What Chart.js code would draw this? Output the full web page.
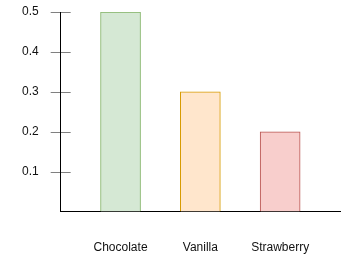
<!DOCTYPE html>
<html>
<head>
<meta charset="utf-8">
<script src="https://cdn.jsdelivr.net/npm/chart.js@4"></script>
<style>
  html, body { margin: 0; padding: 0; background: #fff; }
  #wrap { width: 342px; height: 272px; }
</style>
</head>
<body>
<div id="wrap"><canvas id="flavourChart"></canvas></div>
<script>
const categories = ['Chocolate', 'Vanilla', 'Strawberry'];
const values = [0.5, 0.3, 0.2];
const yTicks = [0.1, 0.2, 0.3, 0.4, 0.5];
const fills = ['#d5e8d4', '#ffe6cc', '#f8cecc'];
const borders = ['#82b366', '#d79b00', '#b85450'];

// gray tick marks crossing the y axis (10px out, 10px in)
const crossTicks = {
    id: 'crossTicks',
    beforeDraw(chart) {
        const y = chart.scales.y;
        const left = chart.chartArea.left;
        const c = chart.ctx;
        c.save();
        c.strokeStyle = '#808080';
        c.lineWidth = 1;
        y.ticks.forEach(t => {
            const py = Math.round(y.getPixelForValue(t.value)) + 0.5;
            c.beginPath();
            c.moveTo(left - 10, py);
            c.lineTo(left + 10, py);
            c.stroke();
        });
        c.restore();
    }
};

Chart.defaults.font.family = '"Liberation Sans", Arial, Helvetica, sans-serif';
Chart.defaults.font.size = 12;
Chart.defaults.color = '#111';

new Chart(document.getElementById('flavourChart'), {
    type: 'bar',
    data: {
        datasets: [{
            data: categories.map((c, i) => ({ x: i + 1, y: values[i] })),
            backgroundColor: fills,
            borderColor: borders,
            borderWidth: 1,
            barThickness: 40
        }]
    },
    options: {
        responsive: true,
        maintainAspectRatio: false,
        animation: false,
        layout: { padding: { left: 22, right: 2, top: 12, bottom: 17 } },
        plugins: {
            legend: { display: false },
            tooltip: { enabled: false }
        },
        scales: {
            x: {
                type: 'linear',
                offset: false,
                min: 0.25,
                max: 3.75,
                afterBuildTicks: s => { s.ticks = categories.map((c, i) => ({ value: i + 1 })); },
                ticks: {
                    padding: 0,
                    autoSkip: false,
                    maxRotation: 0,
                    callback: v => categories[v - 1]
                },
                // invisible tick marks just make the gap under the axis
                grid: { offset: false, drawOnChartArea: false, drawTicks: true, tickLength: 29, tickColor: 'transparent' },
                border: { display: true, color: '#000', width: 1 }
            },
            y: {
                min: 0,
                max: 0.5,
                afterBuildTicks: s => { s.ticks = yTicks.map(v => ({ value: v })); },
                ticks: {
                    padding: 0,
                    callback: v => v.toFixed(1)
                },
                grid: { drawOnChartArea: false, drawTicks: true, tickLength: 22, tickColor: 'transparent' },
                border: { display: true, color: '#000', width: 1 }
            }
        }
    },
    plugins: [crossTicks]
});
</script>
</body>
</html>
